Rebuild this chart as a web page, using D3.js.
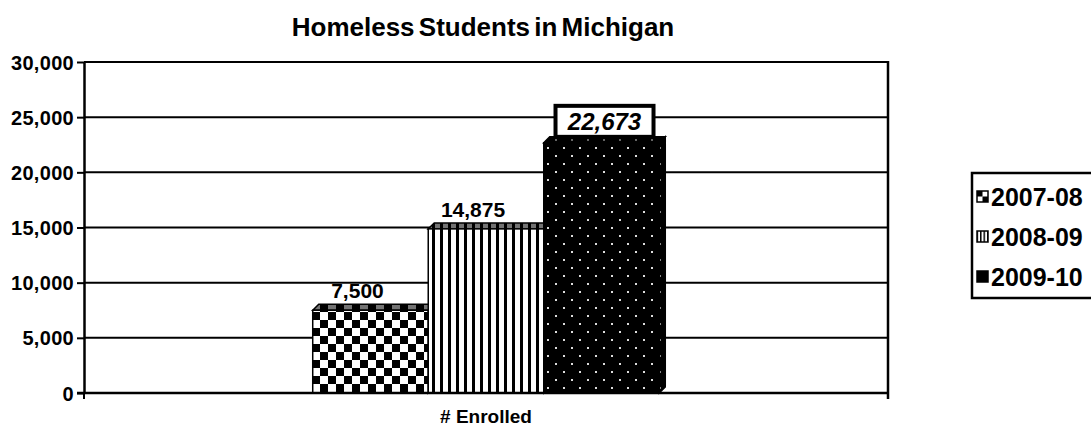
<!DOCTYPE html>
<html>
<head>
<meta charset="utf-8">
<script src="https://cdn.jsdelivr.net/npm/d3@7"></script>
<style>
  html, body { margin: 0; padding: 0; background: #fff; }
  svg { display: block; font-family: "Liberation Sans", Arial, sans-serif; }
</style>
</head>
<body>
<svg id="chart" width="1091" height="426"></svg>
<script>
// ---- data ----
const chartTitle = "Homeless Students in Michigan";
const categories = ["# Enrolled"];
const seriesNames = ["2007-08", "2008-09", "2009-10"];
const seriesValues = [7500, 14875, 22673];
const yTickValues = [0, 5000, 10000, 15000, 20000, 25000, 30000];
const yMax = 30000;

// ---- layout ----
const plot = { left: 84, right: 888, top: 62, bottom: 393 };
const depth = { dx: 6, dy: 6 };

const svg = d3.select("#chart");
const defs = svg.append("defs");

// patterns
const pCheck = defs.append("pattern").attr("id", "pat0").attr("patternUnits", "userSpaceOnUse")
  .attr("width", 16).attr("height", 16);
pCheck.append("rect").attr("width", 16).attr("height", 16).attr("fill", "#fff");
pCheck.append("rect").attr("width", 8).attr("height", 8).attr("fill", "#000");
pCheck.append("rect").attr("x", 8).attr("y", 8).attr("width", 8).attr("height", 8).attr("fill", "#000");

const pStripe = defs.append("pattern").attr("id", "pat1").attr("patternUnits", "userSpaceOnUse")
  .attr("width", 8).attr("height", 8);
pStripe.append("rect").attr("width", 8).attr("height", 8).attr("fill", "#fff");
pStripe.append("rect").attr("width", 3).attr("height", 8).attr("fill", "#000");

const pDots = defs.append("pattern").attr("id", "pat2").attr("patternUnits", "userSpaceOnUse")
  .attr("width", 16).attr("height", 16);
pDots.append("rect").attr("width", 16).attr("height", 16).attr("fill", "#000");
pDots.append("rect").attr("x", 3).attr("y", 3).attr("width", 2).attr("height", 2).attr("fill", "#ddd");
pDots.append("rect").attr("x", 11).attr("y", 11).attr("width", 2).attr("height", 2).attr("fill", "#ddd");

// legend-size patterns
const lCheck = defs.append("pattern").attr("id", "lpat0").attr("patternUnits", "objectBoundingBox")
  .attr("width", 1).attr("height", 1);
lCheck.append("rect").attr("width", 11).attr("height", 11).attr("fill", "#fff");
lCheck.append("rect").attr("x", 0).attr("y", 0).attr("width", 5.5).attr("height", 5.5).attr("fill", "#000");
lCheck.append("rect").attr("x", 5.5).attr("y", 5.5).attr("width", 5.5).attr("height", 5.5).attr("fill", "#000");
const lStripe = defs.append("pattern").attr("id", "lpat1").attr("patternUnits", "userSpaceOnUse")
  .attr("width", 3.5).attr("height", 4);
lStripe.append("rect").attr("width", 3.5).attr("height", 4).attr("fill", "#fff");
lStripe.append("rect").attr("width", 1.5).attr("height", 4).attr("fill", "#000");

const patIds = ["url(#pat0)", "url(#pat1)", "url(#pat2)"];
const legendPat = ["url(#lpat0)", "url(#lpat1)", "#000"];

// ---- scales ----
const x0 = d3.scaleBand().domain(categories).range([plot.left, plot.right]).paddingInner(0).paddingOuter(0);
const x1 = d3.scaleBand().domain(seriesNames).range([0, x0.bandwidth()]).paddingInner(0).paddingOuter(1.98);
const y = d3.scaleLinear().domain([0, yMax]).range([plot.bottom, plot.top]);

// plot background
svg.append("rect").attr("x", plot.left).attr("y", plot.top)
  .attr("width", plot.right - plot.left).attr("height", plot.bottom - plot.top).attr("fill", "#fff");

// gridlines
svg.append("g").selectAll("line").data(yTickValues.filter(d => d > 0)).join("line")
  .attr("x1", plot.left).attr("x2", plot.right)
  .attr("y1", d => y(d)).attr("y2", d => y(d))
  .attr("stroke", "#000").attr("stroke-width", 2);

// right border
svg.append("line").attr("x1", plot.right).attr("x2", plot.right)
  .attr("y1", plot.top - 1).attr("y2", plot.bottom + 6)
  .attr("stroke", "#000").attr("stroke-width", 2.5);

// ---- bars ----
const barsG = svg.append("g");
const w = x1.bandwidth();
const cat = categories[0];
seriesNames.forEach((s, i) => {
  const v = seriesValues[i];
  const bx = x0(cat) + x1(s);
  const by = y(v);
  const b0 = y(0);
  const g = barsG.append("g");
  const side = [[bx + w, by], [bx + w + depth.dx, by - depth.dy], [bx + w + depth.dx, b0 - depth.dy], [bx + w, b0]];
  g.append("polygon").attr("points", side.map(p => p.join(",")).join(" "))
    .attr("fill", patIds[i]).attr("stroke", "#000").attr("stroke-width", 1.5);
  g.append("polygon").attr("points", side.map(p => p.join(",")).join(" "))
    .attr("fill", "rgba(0,0,0,0.35)");
  const top = [[bx, by], [bx + depth.dx, by - depth.dy], [bx + w + depth.dx, by - depth.dy], [bx + w, by]];
  g.append("polygon").attr("points", top.map(p => p.join(",")).join(" "))
    .attr("fill", patIds[i]);
  g.append("polygon").attr("points", top.map(p => p.join(",")).join(" "))
    .attr("fill", "rgba(0,0,0,0.55)").attr("stroke", "#000").attr("stroke-width", 1.5);
  g.append("rect").attr("x", bx).attr("y", by).attr("width", w).attr("height", b0 - by)
    .attr("fill", patIds[i]).attr("stroke", "#000").attr("stroke-width", 1.5);
});

// ---- axes ----
const yAxis = d3.axisLeft(y).tickValues(yTickValues).tickFormat(d3.format(","))
  .tickSizeInner(7).tickSizeOuter(0).tickPadding(3);
const yG = svg.append("g").attr("transform", `translate(${plot.left},0)`).call(yAxis);
yG.select(".domain").attr("stroke", "#000").attr("stroke-width", 2.5);
yG.selectAll(".tick line").attr("stroke", "#000").attr("stroke-width", 2);
yG.selectAll(".tick text").attr("fill", "#000").attr("font-size", 20).attr("font-weight", "bold")
  .attr("letter-spacing", "0.3").attr("font-family", "Liberation Sans, Arial, sans-serif").attr("dy", "0.35em");

svg.append("line").attr("x1", plot.left - 7).attr("x2", plot.right)
  .attr("y1", plot.bottom).attr("y2", plot.bottom).attr("stroke", "#000").attr("stroke-width", 2.5);
const xAxis = d3.axisBottom(x0).tickSize(0).tickPadding(17);
const xG = svg.append("g").attr("transform", `translate(0,${plot.bottom})`).call(xAxis);
xG.select(".domain").remove();
xG.selectAll(".tick text").attr("fill", "#000").attr("font-size", 19).attr("font-weight", "bold")
  .attr("font-family", "Liberation Sans, Arial, sans-serif");
svg.append("g").selectAll("line").data(x0.range()).join("line")
  .attr("x1", d => d).attr("x2", d => d).attr("y1", plot.bottom).attr("y2", plot.bottom + 6)
  .attr("stroke", "#000").attr("stroke-width", 2);

// ---- data labels ----
const fmt = d3.format(",");
seriesNames.forEach((s, i) => {
  const v = seriesValues[i];
  const cx = x0(cat) + x1(s) + w / 2;
  if (i < seriesNames.length - 1) {
    svg.append("text").attr("x", cx - 13).attr("y", y(v) - 12)
      .attr("text-anchor", "middle").attr("font-size", 21).attr("font-weight", "bold")
      .attr("fill", "#000").text(fmt(v));
  } else {
    const bw = 98, bh = 31;
    const bxc = cx + 3;
    const bottom = y(v) - depth.dy;
    svg.append("rect").attr("x", bxc - bw / 2).attr("y", bottom - bh).attr("width", bw).attr("height", bh)
      .attr("fill", "#fff").attr("stroke", "#000").attr("stroke-width", 4);
    svg.append("text").attr("x", bxc).attr("y", bottom - 7)
      .attr("text-anchor", "middle").attr("font-size", 24).attr("font-weight", "bold")
      .attr("font-style", "italic").attr("fill", "#000").text(fmt(v));
  }
});

// ---- title ----
svg.append("text").attr("x", 483).attr("y", 36).attr("text-anchor", "middle")
  .attr("font-size", 26).attr("font-weight", "bold").attr("fill", "#000")
  .attr("word-spacing", "-3").text(chartTitle);

// ---- legend ----
const lg = svg.append("g");
lg.append("rect").attr("x", 972).attr("y", 173).attr("width", 130).attr("height", 125)
  .attr("fill", "#fff").attr("stroke", "#000").attr("stroke-width", 2.5);
const legendY = d3.scalePoint().domain(seriesNames).range([197, 277]);
seriesNames.forEach((s, i) => {
  const cy = legendY(s);
  lg.append("rect").attr("x", 977).attr("y", cy - 6).attr("width", 11).attr("height", 11)
    .attr("fill", legendPat[i]).attr("stroke", "#000").attr("stroke-width", 1.5);
  lg.append("text").attr("x", 991).attr("y", cy).attr("dy", "0.36em")
    .attr("font-size", 25).attr("font-weight", "bold").attr("fill", "#000").text(s);
});
</script>
</body>
</html>
